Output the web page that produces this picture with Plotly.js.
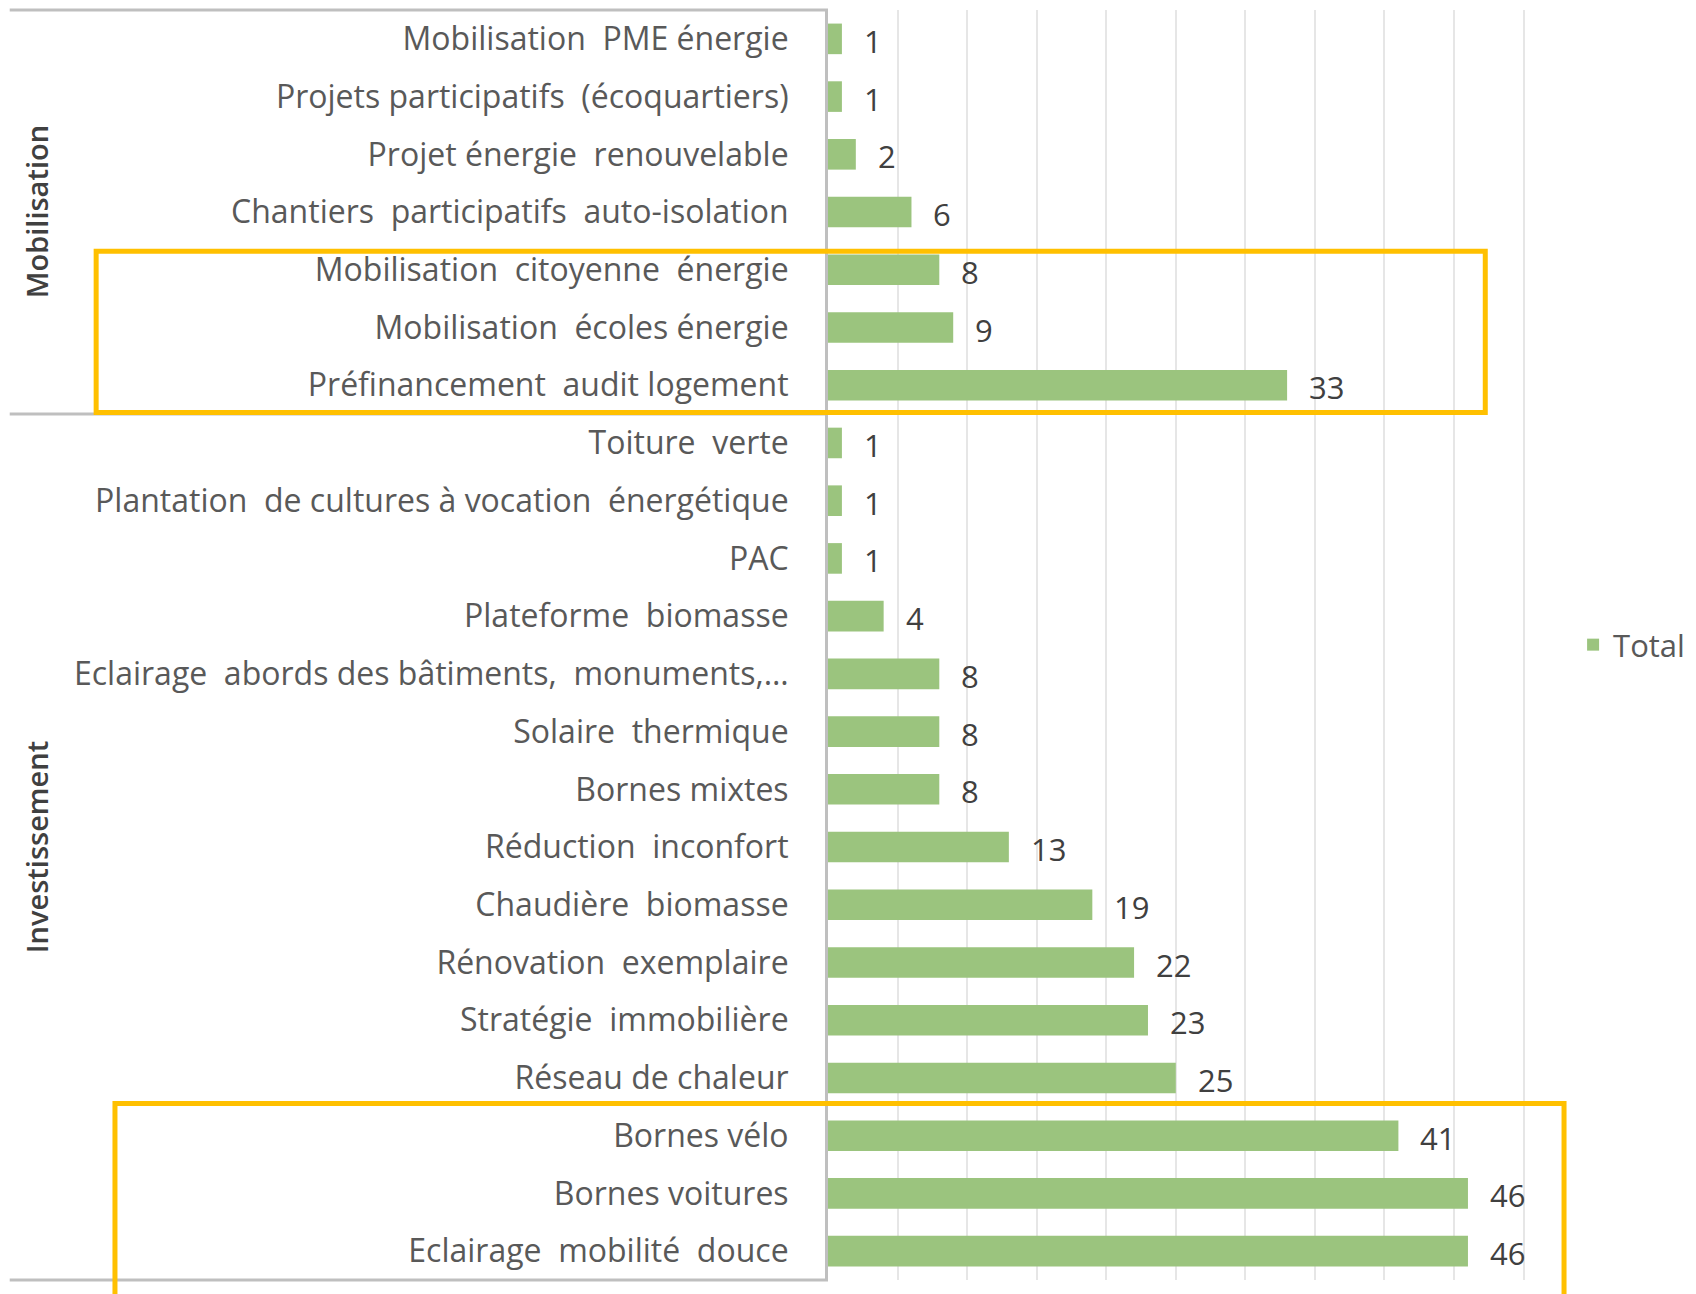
<!DOCTYPE html>
<html>
<head>
<meta charset="utf-8">
<script src="https://cdn.plot.ly/plotly-3.0.1.min.js"></script>
<style>
  html, body { margin: 0; padding: 0; background: #fff; }
  #chart { width: 1696px; height: 1294px; }
</style>
</head>
<body>
<div id="chart"></div>
<script>
'use strict'
/* Actions by group, total count per action */
var groups = ['Mobilisation', 'Investissement'];
var groupSizes = [7, 15];
var actions = [
    'Mobilisation\u00a0 PME énergie',
    'Projets participatifs\u00a0 (écoquartiers)',
    'Projet énergie\u00a0 renouvelable',
    'Chantiers\u00a0 participatifs\u00a0 auto-isolation',
    'Mobilisation\u00a0 citoyenne\u00a0 énergie',
    'Mobilisation\u00a0 écoles énergie',
    'Préfinancement\u00a0 audit logement',
    'Toiture\u00a0 verte',
    'Plantation\u00a0 de cultures à vocation\u00a0 énergétique',
    'PAC',
    'Plateforme\u00a0 biomasse',
    'Eclairage\u00a0 abords des bâtiments,\u00a0 monuments,…',
    'Solaire\u00a0 thermique',
    'Bornes mixtes',
    'Réduction\u00a0 inconfort',
    'Chaudière\u00a0 biomasse',
    'Rénovation\u00a0 exemplaire',
    'Stratégie\u00a0 immobilière',
    'Réseau de chaleur',
    'Bornes vélo',
    'Bornes voitures',
    'Eclairage\u00a0 mobilité\u00a0 douce'
];
var totals = [1, 1, 2, 6, 8, 9, 33, 1, 1, 1, 4, 8, 8, 8, 13, 19, 22, 23, 25, 41, 46, 46];

var labelFont = 'Open Sans, sans-serif';
var green = '#9BC47E';
var n = actions.length;

/* paper y of a boundary between categories (reversed axis) */
function boundaryY(b) {
    return 1 - (b + 0.5) / n;
}

var bars = {
    type: 'bar',
    orientation: 'h',
    name: 'Total',
    x: totals,
    y: actions,
    marker: {color: green},
    width: 0.53,
    hoverinfo: 'skip'
};

/* value labels next to each bar */
var annotations = [];
for (var i = 0; i < n; i++) {
    annotations.push({
        x: totals[i], y: actions[i], xref: 'x', yref: 'y',
        text: String(totals[i]), showarrow: false,
        xanchor: 'left', yanchor: 'middle', xshift: 20, yshift: -2,
        font: {family: labelFont, size: 31, color: '#404040'}
    });
}

/* group labels and separators on the left */
var shapes = [];
var grey = '#BFBFBF';
var start = -0.5;
shapes.push({type: 'line', xref: 'paper', yref: 'paper', x0: -1.174, x1: 0, y0: boundaryY(start), y1: boundaryY(start), line: {color: grey, width: 3}});
for (var g = 0; g < groups.length; g++) {
    var end = start + groupSizes[g];
    annotations.push({
        x: -1.136, y: (boundaryY(start) + boundaryY(end)) / 2, xref: 'paper', yref: 'paper',
        xanchor: 'center', yanchor: 'middle',
        text: groups[g], showarrow: false, textangle: -90,
        font: {family: 'Open Sans, sans-serif', size: 29, weight: 600, color: '#404040'}
    });
    shapes.push({type: 'line', xref: 'paper', yref: 'paper', x0: -1.174, x1: 0, y0: boundaryY(end), y1: boundaryY(end), line: {color: grey, width: 3}});
    start = end;
}

/* orange highlight boxes */
shapes.push({type: 'rect', xref: 'paper', yref: 'paper', x0: -1.050, x1: 0.943, y0: 0.683, y1: 0.810, line: {color: '#FFC000', width: 5}});
shapes.push({type: 'rect', xref: 'paper', yref: 'paper', x0: -1.023, x1: 1.056, y0: -0.03, y1: 0.139, line: {color: '#FFC000', width: 5}});

var layout = {
    width: 1696,
    height: 1294,
    margin: {l: 828, r: 171, t: 10, b: 14, pad: 0, autoexpand: false},
    paper_bgcolor: '#fff',
    plot_bgcolor: '#fff',
    showlegend: true,
    legend: {
        x: 1.069, y: 0.5, xanchor: 'left', yanchor: 'middle',
        font: {family: labelFont, size: 31, color: '#595959'}
    },
    xaxis: {
        range: [0, 50.1],
        dtick: 5,
        showgrid: true,
        gridcolor: '#E6E6E6',
        gridwidth: 2,
        showticklabels: false,
        zeroline: false,
        showline: false,
        fixedrange: true
    },
    yaxis: {
        type: 'category',
        autorange: 'reversed',
        showgrid: false,
        showline: true,
        linecolor: grey,
        linewidth: 3,
        ticks: '',
        ticklabelstandoff: 30,
        tickfont: {family: labelFont, size: 32, color: '#595959'},
        fixedrange: true
    },
    annotations: annotations,
    shapes: shapes
};

Plotly.newPlot('chart', [bars], layout, {displayModeBar: false, staticPlot: true});
</script>
</body>
</html>
